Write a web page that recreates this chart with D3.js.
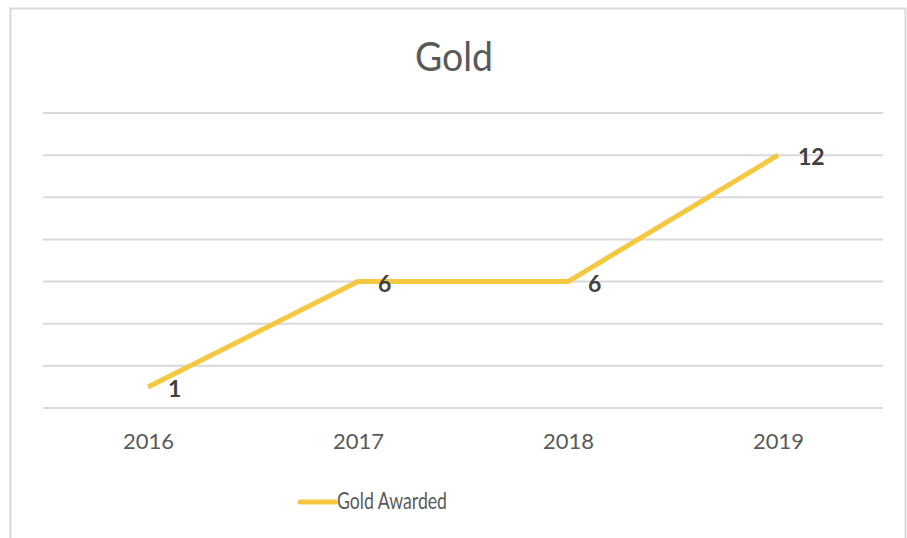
<!DOCTYPE html>
<html>
<head>
<meta charset="utf-8">
<script src="https://cdn.jsdelivr.net/npm/d3@7"></script>
<style>
  body { margin: 0; background: #fff; }
  svg { display: block; font-family: Lato, "Open Sans", sans-serif; }
</style>
</head>
<body>
<svg id="chart"></svg>
<script>
var years = ['2016', '2017', '2018', '2019'];
var goldAwarded = [1, 6, 6, 12];
var gridTicks = [0, 2, 4, 6, 8, 10, 12, 14];
var seriesName = 'Gold Awarded';

var width = 907, height = 538;
var svg = d3.select('svg#chart')
    .attr('width', width)
    .attr('height', height);

// frame around the chart
svg.append('rect')
    .attr('x', 10.5).attr('y', 8.5)
    .attr('width', 895).attr('height', 540)
    .style('fill', 'white')
    .style('stroke', '#d9d9d9')
    .style('stroke-width', 2);

var plot = { left: 43, right: 883, top: 113, bottom: 408 };

var x = d3.scalePoint()
    .domain(years)
    .range([plot.left, plot.right])
    .padding(0.5);

var y = d3.scaleLinear()
    .domain([0, 14])
    .range([plot.bottom, plot.top]);

// gridlines
svg.append('g')
    .selectAll('line')
    .data(gridTicks)
    .join('line')
    .attr('x1', plot.left).attr('x2', plot.right)
    .attr('y1', function(d){ return y(d); })
    .attr('y2', function(d){ return y(d); })
    .style('stroke', '#d9d9d9')
    .style('stroke-width', 2);

// category axis labels
var xAxis = svg.append('g')
    .attr('transform', 'translate(0,' + plot.bottom + ')')
    .call(d3.axisBottom(x).tickSize(0).tickPadding(25));
xAxis.select('.domain').remove();
xAxis.selectAll('text')
    .style('font-family', 'Lato, sans-serif')
    .style('font-size', '22px')
    .style('fill', '#595959');

// title
svg.append('text')
    .attr('x', 454).attr('y', 71)
    .attr('text-anchor', 'middle')
    .attr('textLength', 78)
    .attr('lengthAdjust', 'spacingAndGlyphs')
    .style('font-size', '40px')
    .style('fill', '#595959')
    .text('Gold');

var line = d3.line()
    .x(function(d, i){ return x(years[i]); })
    .y(function(d){ return y(d); });

svg.append('path')
    .datum(goldAwarded)
    .attr('d', line)
    .style('fill', 'none')
    .style('stroke', '#f5c842')
    .style('stroke-width', 5)
    .style('stroke-linejoin', 'round');

// data labels, right of each point
svg.append('g')
    .selectAll('text')
    .data(goldAwarded)
    .join('text')
    .attr('x', function(d, i){ return x(years[i]) + 20; })
    .attr('y', function(d){ return y(d) + 10; })
    .style('font-size', '23px')
    .style('font-weight', 'bold')
    .style('fill', '#404040')
    .text(function(d){ return d; });

// legend
svg.append('line')
    .attr('x1', 300).attr('x2', 335)
    .attr('y1', 502).attr('y2', 502)
    .style('stroke', '#f5c842')
    .style('stroke-width', 5)
    .style('stroke-linecap', 'round');
svg.append('text')
    .attr('x', 337).attr('y', 509)
    .attr('textLength', 110)
    .attr('lengthAdjust', 'spacingAndGlyphs')
    .style('font-size', '23px')
    .style('fill', '#595959')
    .text(seriesName);
</script>
</body>
</html>
